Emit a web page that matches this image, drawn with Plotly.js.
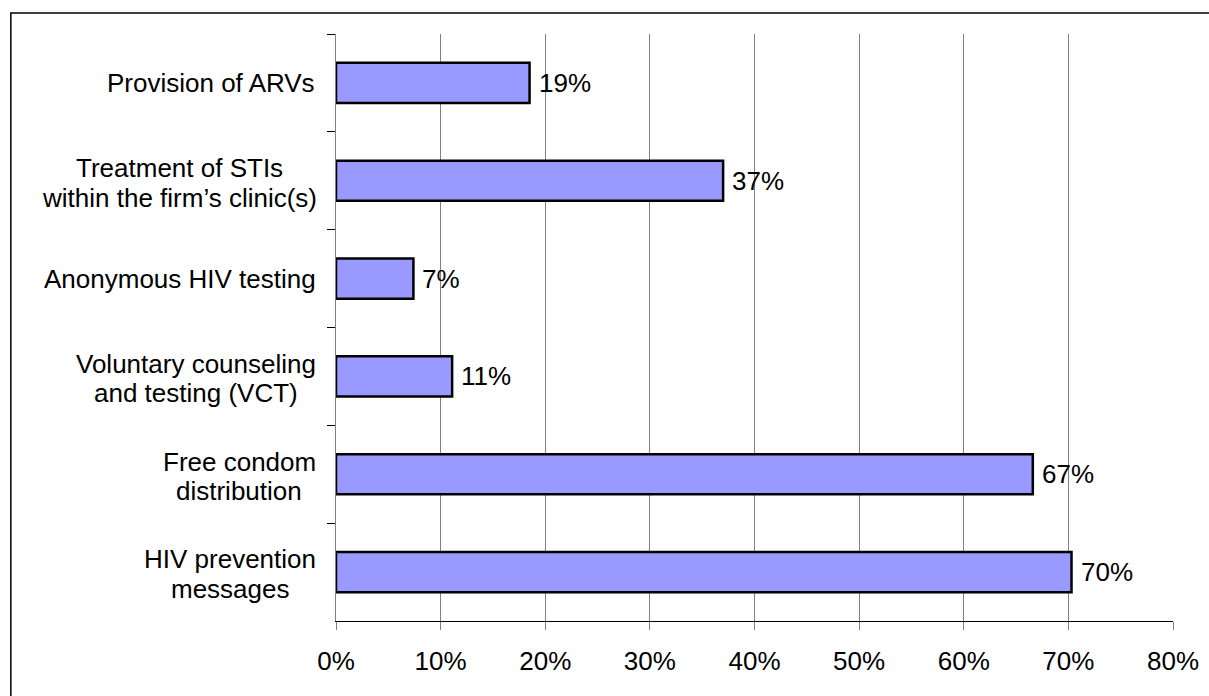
<!DOCTYPE html>
<html>
<head>
<meta charset="utf-8">
<script src="https://cdn.plot.ly/plotly-3.0.1.min.js"></script>
<style>
html,body{margin:0;padding:0;background:#fff;}
#chart{width:1209px;height:696px;}
</style>
</head>
<body>
<div id="chart"></div>
<script>
// Categories listed from top to bottom
var categories = [
  "Provision of ARVs",
  "Treatment of STIs<br>within the firm\u2019s clinic(s)",
  "Anonymous HIV testing",
  "Voluntary counseling<br>and testing (VCT)",
  "Free condom<br>distribution",
  "HIV prevention<br>messages"
];
var values = [18.5, 37.0, 7.4, 11.1, 66.6, 70.3];
var valueLabels = ["19%", "37%", "7%", "11%", "67%", "70%"];
var xTickValues = [0, 10, 20, 30, 40, 50, 60, 70, 80];
var xTickLabels = ["0%", "10%", "20%", "30%", "40%", "50%", "60%", "70%", "80%"];

var FONT = "Liberation Sans, Arial, sans-serif";
var FS = 26;
var LINE_STEP = 29.5;
var LABEL_GAP = 20;

var trace = {
  type: "bar",
  orientation: "h",
  x: values,
  y: categories,
  marker: {color: "#9999FF", line: {color: "#000000", width: 2.5}},
  hoverinfo: "none"
};

var annotations = values.map(function (v, i) {
  return {
    x: v, y: categories[i], xref: "x", yref: "y",
    text: valueLabels[i], showarrow: false,
    xanchor: "left", yanchor: "middle", xshift: 7,
    font: {family: FONT, size: FS, color: "#000"}
  };
});

// measure text widths so wrapped lines can be centred within their block
var ctx = document.createElement("canvas").getContext("2d");
ctx.font = FS + "px 'Liberation Sans', Arial, sans-serif";

categories.forEach(function (c) {
  var lines = c.split("<br>");
  var n = lines.length;
  var widths = lines.map(function (ln) { return ctx.measureText(ln.replace("\u2019", "'")).width; });
  var blockW = Math.max.apply(null, widths);
  lines.forEach(function (ln, j) {
    var off = (n - 1) / 2 - j;
    annotations.push({
      x: 0, y: c, xref: "paper", yref: "y",
      text: ln, showarrow: false,
      xanchor: "center", yanchor: "middle",
      xshift: -LABEL_GAP - blockW / 2, yshift: off * LINE_STEP - (n > 1 ? 2 : 0),
      font: {family: FONT, size: FS, color: "#000"}
    });
  });
});

var layout = {
  width: 1209, height: 696,
  margin: {l: 336, r: 36.4, t: 34, b: 75, pad: 0},
  paper_bgcolor: "#ffffff",
  plot_bgcolor: "#ffffff",
  showlegend: false,
  bargap: 0.59,
  font: {family: FONT, size: FS, color: "#000"},
  xaxis: {
    range: [0, 80],
    tickvals: xTickValues,
    ticktext: xTickLabels,
    showgrid: true, gridcolor: "#808080", gridwidth: 1,
    zeroline: false,
    showline: true, linecolor: "#000000", linewidth: 1,
    ticks: "outside", ticklen: 8, tickcolor: "#808080", tickwidth: 1,
    ticklabelstandoff: 9,
    tickfont: {family: FONT, size: FS, color: "#000"},
    fixedrange: true
  },
  yaxis: {
    type: "category",
    autorange: "reversed",
    tickson: "boundaries",
    showticklabels: false,
    showgrid: false, zeroline: false,
    showline: true, linecolor: "#808080", linewidth: 1.5,
    ticks: "outside", ticklen: 8, tickcolor: "#000000", tickwidth: 1,
    fixedrange: true
  },
  annotations: annotations,
  shapes: [{
    type: "rect", xref: "paper", yref: "paper",
    x0: -0.3885, x1: 1.2, y0: -0.3, y1: 1.0358,
    line: {color: "#000000", width: 1.5}, fillcolor: "rgba(0,0,0,0)",
    layer: "below"
  }]
};

Plotly.newPlot("chart", [trace], layout, {displayModeBar: false, staticPlot: true});
</script>
</body>
</html>
